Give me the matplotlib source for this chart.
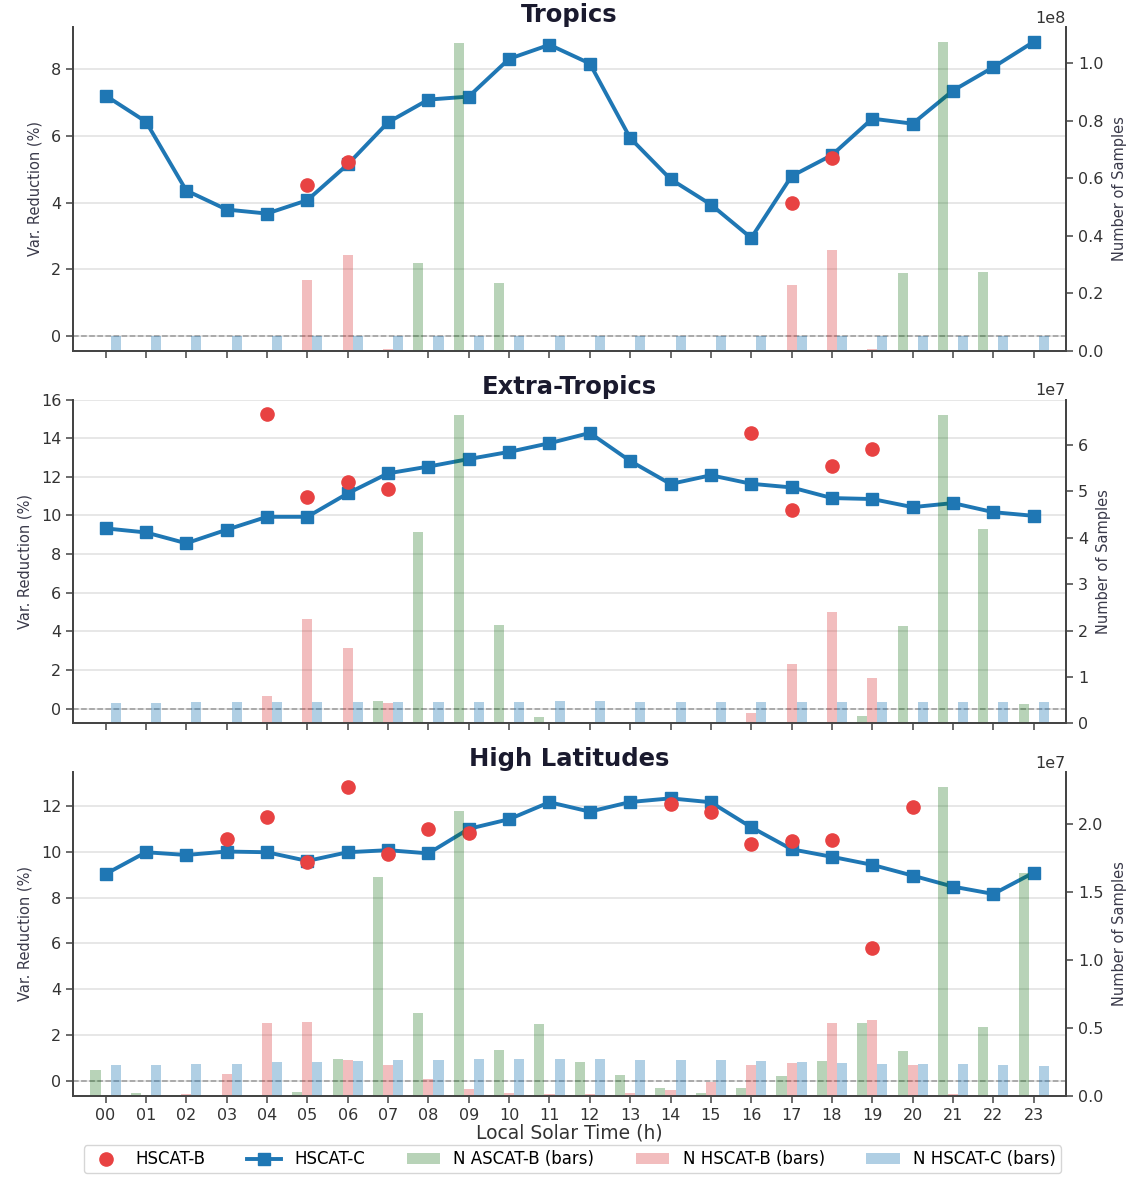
import numpy as np
import matplotlib
matplotlib.use("Agg")
import matplotlib.pyplot as plt

nan = np.nan
hours = np.arange(24)
hour_labels = [f"{h:02d}" for h in hours]

# Tropics (counts in units of 1e8)
trop_hscat_c = [7.20, 6.42, 4.36, 3.79, 3.67, 4.07, 5.14, 6.40, 7.08, 7.17, 8.30, 8.72,
                8.16, 5.93, 4.70, 3.94, 2.94, 4.79, 5.42, 6.51, 6.36, 7.35, 8.05, 8.81]
trop_hscat_b = [nan, nan, nan, nan, nan, 4.51, 5.21, nan, nan, nan, nan, nan,
                nan, nan, nan, nan, nan, 4.00, 5.34, nan, nan, nan, nan, nan]
trop_n_ascat_b = [0, 0, 0, 0, 0, 0, 0, 0, 0.306, 1.071, 0.238, 0,
                  0, 0, 0, 0, 0, 0, 0, 0, 0.270, 1.073, 0.273, 0]
trop_n_hscat_b = [0, 0, 0, 0, 0, 0.246, 0.334, 0.006, 0, 0, 0, 0,
                  0, 0, 0, 0, 0, 0.230, 0.350, 0.006, 0, 0, 0, 0]
trop_n_hscat_c = [0.052] * 24

# Extra-Tropics (counts in units of 1e7)
extra_hscat_c = [9.33, 9.12, 8.56, 9.26, 9.93, 9.93, 11.14, 12.18, 12.53, 12.92, 13.29, 13.74,
                 14.27, 12.82, 11.63, 12.08, 11.64, 11.45, 10.90, 10.85, 10.43, 10.64, 10.17, 9.98]
extra_hscat_b = [nan, nan, nan, nan, 15.24, 10.97, 11.73, 11.35, nan, nan, nan, nan,
                 nan, nan, nan, nan, 14.27, 10.29, 12.58, 13.43, nan, nan, nan, nan]
extra_n_ascat_b = [0, 0, 0, 0, 0, 0, 0, 0.49, 4.12, 6.65, 2.12, 0.13,
                   0, 0, 0, 0, 0, 0, 0, 0.15, 2.09, 6.65, 4.19, 0.42]
extra_n_hscat_b = [0, 0, 0, 0, 0.60, 2.24, 1.62, 0.43, 0, 0, 0, 0,
                   0, 0, 0, 0, 0.22, 1.27, 2.40, 0.97, 0, 0, 0, 0]
extra_n_hscat_c = [0.43, 0.44, 0.45, 0.45, 0.47, 0.47, 0.45, 0.47, 0.45, 0.45, 0.47, 0.49,
                   0.49, 0.47, 0.47, 0.45, 0.45, 0.45, 0.45, 0.47, 0.47, 0.45, 0.47, 0.45]

# High Latitudes (counts in units of 1e7)
high_hscat_c = [9.03, 9.98, 9.86, 10.01, 9.98, 9.60, 9.98, 10.07, 9.93, 11.00, 11.42, 12.16,
                11.75, 12.17, 12.33, 12.16, 11.07, 10.11, 9.78, 9.43, 8.96, 8.48, 8.16, 9.09]
high_hscat_b = [nan, nan, nan, 10.55, 11.52, 9.54, 12.84, 9.91, 10.98, 10.81, nan, nan,
                nan, nan, 12.09, 11.74, 10.33, 10.47, 10.52, 5.79, 11.97, nan, nan, nan]
high_n_ascat_b = [0.19, 0.02, 0.005, 0, 0.005, 0.03, 0.274, 1.606, 0.612, 2.09, 0.335, 0.526,
                  0.25, 0.154, 0.054, 0.024, 0.054, 0.149, 0.255, 0.536, 0.326, 2.267, 0.502, 1.64]
high_n_hscat_b = [0, 0, 0.015, 0.16, 0.536, 0.543, 0.264, 0.225, 0.122, 0.049, 0.024, 0.015,
                  0.01, 0.024, 0.044, 0.098, 0.225, 0.24, 0.536, 0.558, 0.225, 0.01, 0, 0]
high_n_hscat_c = [0.225, 0.225, 0.23, 0.235, 0.245, 0.25, 0.255, 0.26, 0.264, 0.269, 0.269, 0.269,
                  0.269, 0.264, 0.264, 0.264, 0.255, 0.25, 0.24, 0.235, 0.23, 0.23, 0.225, 0.22]

plt.rcParams['font.family'] = ['DejaVu Sans']
plt.rcParams['axes.edgecolor'] = '#444444'
plt.rcParams['xtick.color'] = '#444444'
plt.rcParams['ytick.color'] = '#444444'
plt.rcParams['xtick.labelcolor'] = '#333333'
plt.rcParams['ytick.labelcolor'] = '#333333'

width = 0.25


def draw_panel(ax, title, hscat_c, hscat_b, n_ascat_b, n_hscat_b, n_hscat_c, scale):
    ax.grid(axis='y', color='#e3e3e3', linewidth=1.2)
    ax.set_axisbelow(True)
    ax.axhline(0, color='#999999', linestyle='--', linewidth=1.1, zorder=1)
    ln_c, = ax.plot(hours, hscat_c, color='#1f77b4', marker='s', markersize=9,
                    linewidth=2.8, zorder=3, label='HSCAT-C')
    ln_b, = ax.plot(hours, hscat_b, color='#e84242', marker='o', markersize=9.5,
                    linestyle='none', zorder=4, label='HSCAT-B')

    # sample counts on a twin axis, drawn over the lines
    ax2 = ax.twinx()
    b1 = ax2.bar(hours - width, np.array(n_ascat_b) * scale, width,
                 color='darkgreen', alpha=0.28, label='N ASCAT-B (bars)')
    b2 = ax2.bar(hours, np.array(n_hscat_b) * scale, width,
                 color='#d62728', alpha=0.3, label='N HSCAT-B (bars)')
    b3 = ax2.bar(hours + width, np.array(n_hscat_c) * scale, width,
                 color='#1f77b4', alpha=0.35, label='N HSCAT-C (bars)')

    ax.set_title(title, fontsize=17.5, fontweight='bold', color='#1a1a2e', pad=4)
    ax.set_ylabel('Var. Reduction (%)', fontsize=10.5, color='#3a3a4a', labelpad=6)
    ax2.set_ylabel('Number of Samples', fontsize=10.5, color='#3a3a4a', labelpad=6)
    ax.tick_params(labelsize=11.5, length=5, width=1.1)
    ax2.tick_params(labelsize=11.5, length=5, width=1.1)
    ax2.yaxis.get_offset_text().set_fontsize(11.5)
    for a in (ax, ax2):
        a.spines['top'].set_visible(False)
        for s in ('left', 'right', 'bottom'):
            a.spines[s].set_linewidth(1.3)
    ax.set_xlim(-0.8, 23.8)
    return [ln_b, ln_c, b1, b2, b3]


fig, axes = plt.subplots(3, 1, sharex=True, figsize=(11.45, 11.77), dpi=100)
fig.subplots_adjust(left=0.064, right=0.931, bottom=0.069, top=0.977, hspace=0.15)

handles = draw_panel(axes[0], 'Tropics', trop_hscat_c, trop_hscat_b,
                     trop_n_ascat_b, trop_n_hscat_b, trop_n_hscat_c, 1e8)
draw_panel(axes[1], 'Extra-Tropics', extra_hscat_c, extra_hscat_b,
           extra_n_ascat_b, extra_n_hscat_b, extra_n_hscat_c, 1e7)
draw_panel(axes[2], 'High Latitudes', high_hscat_c, high_hscat_b,
           high_n_ascat_b, high_n_hscat_b, high_n_hscat_c, 1e7)

axes[2].set_xticks(hours)
axes[2].set_xticklabels(hour_labels)
axes[2].set_xlabel('Local Solar Time (h)', fontsize=13.5, color='#333333', labelpad=1)

fig.legend(handles, [h.get_label() for h in handles], loc='lower center', ncol=5,
           bbox_to_anchor=(0.5, -0.004), fontsize=12, frameon=True, columnspacing=2.5,
           borderpad=0.3, edgecolor='#cccccc', fancybox=True)

fig.savefig('out.png', dpi=100)
